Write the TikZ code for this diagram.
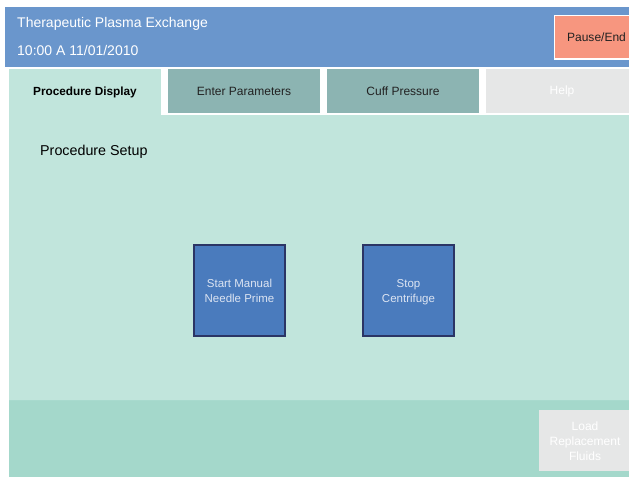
\documentclass[tikz,border=0pt]{standalone}
\usepackage{fontspec}
\setmainfont{Liberation Sans}
\definecolor{headblue}{HTML}{6A96CC}
\definecolor{bodygreen}{HTML}{C1E5DC}
\definecolor{bandgreen}{HTML}{A4D8CB}
\definecolor{tabteal}{HTML}{8CB4B2}
\definecolor{paleGray}{HTML}{E6E7E7}
\definecolor{salmon}{HTML}{F7967F}
\definecolor{btnblue}{HTML}{4A7BBD}
\definecolor{btnedge}{HTML}{2B3565}
\definecolor{btntext}{HTML}{DCE4F2}
\definecolor{darktext}{HTML}{222222}
\tikzset{
  panel/.style={draw=none, inner sep=0pt, outer sep=0pt},
  tabtext/.style={font=\fontsize{12}{14}\selectfont, text=darktext},
  leftlabel/.style={anchor=west, inner sep=0pt},
  bigbtn/.style={fill=btnblue, draw=btnedge, line width=2pt},
  btnlabel/.style={font=\fontsize{11.5}{15}\selectfont, text=btntext, align=center},
}
\begin{document}
\begin{tikzpicture}[x=1pt, y=-1pt]
  \useasboundingbox[fill=white] (0,0) rectangle (629,477);
  % header bar
  \fill[headblue] (5,7) rectangle (629,67);
  \node[leftlabel, text=white, font=\fontsize{14}{16}\selectfont] (title) at (17,24) {Therapeutic Plasma Exchange};
  \node[leftlabel, text=white, font=\fontsize{14}{16}\selectfont] (clock) at (17,50) {10:00 A 11/01/2010};
  % pause button
  \fill[white] (553.5,14.5) rectangle (629,59.5);
  \fill[salmon] (555,16) rectangle (629,58);
  \node[tabtext] (pause) at (596.5,37) {Pause/End};
  % main body
  \fill[bodygreen] (9,69) rectangle (629,400);
  \fill[bandgreen] (9,400) rectangle (629,477);
  \draw[color=bandgreen!85!bodygreen, line width=0.8pt] (9,400) -- (629,400);
  % tab row
  \fill[white] (161,67) rectangle (629,115);
  \fill[tabteal] (168,69) rectangle (320,113);
  \fill[tabteal] (327,69) rectangle (479,113);
  \fill[paleGray] (486,69) rectangle (629,113);
  \node[tabtext, font=\fontsize{11.8}{14}\selectfont\bfseries, text=black] (tabproc) at (85,92) {Procedure Display};
  \node[tabtext] (tabparam) at (244,91) {Enter Parameters};
  \node[tabtext] (tabcuff) at (403,91) {Cuff Pressure};
  \node[tabtext, text=white] (tabhelp) at (562,91) {Help};
  % section heading
  \node[leftlabel, font=\fontsize{14.3}{16}\selectfont, text=black] (setup) at (40,151.5) {Procedure Setup};
  % action buttons
  \draw[bigbtn] (194,245) rectangle (285,336);
  \node[btnlabel] (prime) at (239.5,290.5) {Start Manual\\Needle Prime};
  \draw[bigbtn] (363,245) rectangle (454,336);
  \node[btnlabel] (stop) at (408.5,292.5) {Stop\\Centrifuge};
  % disabled button in the bottom band
  \fill[paleGray] (539,410) rectangle (629,471);
  \node[btnlabel, font=\fontsize{12}{15}\selectfont, text=white] (load) at (585,441) {Load\\Replacement\\Fluids};
\end{tikzpicture}
\end{document}
